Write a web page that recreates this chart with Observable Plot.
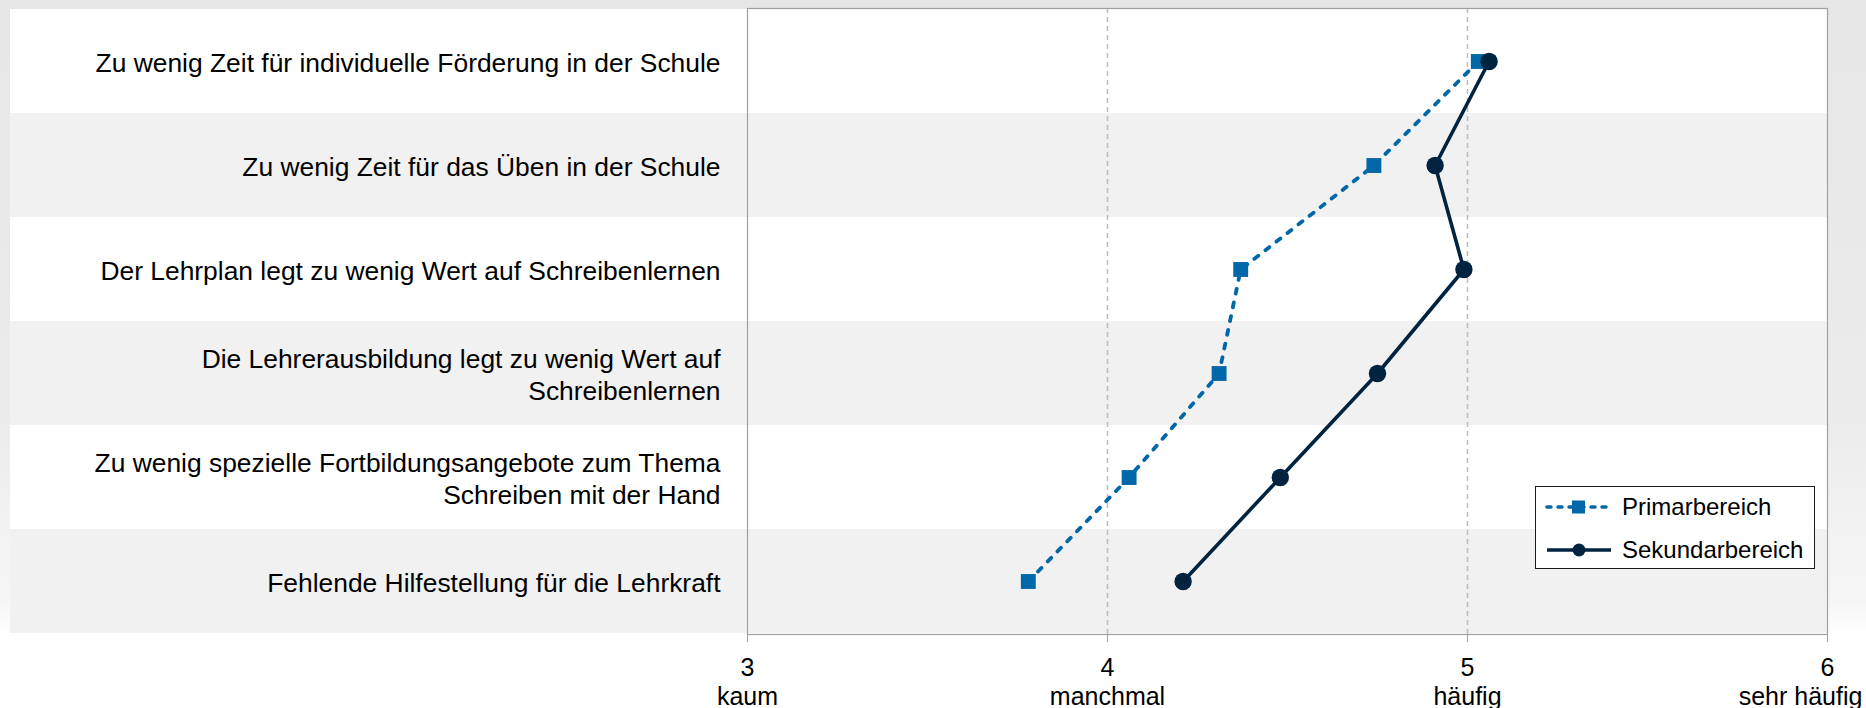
<!DOCTYPE html>
<html>
<head>
<meta charset="utf-8">
<script src="https://cdn.jsdelivr.net/npm/d3@7"></script>
<script src="https://cdn.jsdelivr.net/npm/@observablehq/plot@0.6"></script>
<style>
  html, body { margin: 0; padding: 0; }
  body { width: 1866px; height: 708px; overflow: hidden; font-family: "Liberation Sans", Arial, sans-serif; }
  #wrap { position: relative; width: 1866px; height: 708px;
    background: linear-gradient(to bottom, #e6e6e6 0%, #ececec 60%, #f6f6f6 85%, #ffffff 90%, #ffffff 100%); }
  #chart { position: absolute; left: 0; top: 0; }
  #legend { position: absolute; left: 1535px; top: 486px; width: 278px; height: 81px;
    background: #fff; border: 1.5px solid #1a1a1a; font-size: 24px; color: #000; }
  .item { position: absolute; left: 8px; height: 30px; display: flex; align-items: center; }
  .item svg { display: block; margin-right: 8px; }
</style>
</head>
<body>
<div id="wrap">
  <div id="chart"></div>
  <div id="legend"></div>
</div>
<script>
const categories = [
  "Zu wenig Zeit für individuelle Förderung in der Schule",
  "Zu wenig Zeit für das Üben in der Schule",
  "Der Lehrplan legt zu wenig Wert auf Schreibenlernen",
  "Die Lehrerausbildung legt zu wenig Wert auf\nSchreibenlernen",
  "Zu wenig spezielle Fortbildungsangebote zum Thema\nSchreiben mit der Hand",
  "Fehlende Hilfestellung für die Lehrkraft"
];
const primarbereich = [5.03, 4.74, 4.37, 4.31, 4.06, 3.78];
const sekundarbereich = [5.06, 4.91, 4.99, 4.75, 4.48, 4.21];
const tickValues = [3, 4, 5, 6];
const tickWords = ["kaum", "manchmal", "häufig", "sehr häufig"];
const seriesNames = ["Primarbereich", "Sekundarbereich"];

const colPrim = "#0068a8";
const colSek = "#002340";

const primData = categories.map((c, i) => ({cat: c, v: primarbereich[i]}));
const sekData = categories.map((c, i) => ({cat: c, v: sekundarbereich[i]}));
const bands = categories.map((c, i) => ({cat: c, fill: i % 2 ? "#f1f1f1" : "#ffffff"}));

const chart = Plot.plot({
  width: 1866,
  height: 708,
  marginLeft: 747,
  marginRight: 39,
  marginTop: 8,
  marginBottom: 74,
  style: {background: "transparent", fontFamily: "'Liberation Sans', Arial, sans-serif", color: "#000", overflow: "visible"},
  x: {domain: [3, 6], label: null},
  y: {type: "band", domain: categories, padding: 0, label: null},
  color: {type: "identity"},
  marks: [
    Plot.cell(bands, {y: "cat", fill: "fill", insetLeft: -737}),
    Plot.gridX([4, 5], {stroke: "#bdbdbd", strokeOpacity: 1, strokeWidth: 1.5, strokeDasharray: "5,4"}),
    Plot.frame({stroke: "#a0a0a0", strokeWidth: 1.2}),
    Plot.axisY({tickSize: 0, tickPadding: 27, fontSize: 26.4, lineHeight: 1.21, fill: "#000", textAnchor: "end", label: null}),
    Plot.axisX(tickValues, {tickSize: 8, tickPadding: 16, fontSize: 25, stroke: "#a0a0a0", fill: "#000", label: null,
      tickFormat: d => String(d)}),
    Plot.axisX(tickValues.slice(0, 3), {tickSize: 0, tickPadding: 53, fontSize: 25, fill: "#000", label: null,
      tickFormat: d => tickWords[tickValues.indexOf(d)]}),
    Plot.axisX(tickValues.slice(3), {tickSize: 0, tickPadding: 53, fontSize: 25, fill: "#000", dx: -27, label: null,
      tickFormat: d => tickWords[tickValues.indexOf(d)]}),
    Plot.line(primData, {x: "v", y: "cat", stroke: colPrim, strokeWidth: 3.8, strokeDasharray: "5,9", strokeLinecap: "round"}),
    Plot.line(sekData, {x: "v", y: "cat", stroke: colSek, strokeWidth: 3.6}),
    Plot.dot(primData, {x: "v", y: "cat", symbol: "square", r: 8.4, fill: colPrim, stroke: "none"}),
    Plot.dot(sekData, {x: "v", y: "cat", symbol: "circle", r: 8.7, fill: colSek, stroke: "none"})
  ]
});
document.getElementById("chart").appendChild(chart);

// Legend
const legend = document.getElementById("legend");
const items = [
  {name: seriesNames[0], color: colPrim, dash: "4,7", symbol: "square"},
  {name: seriesNames[1], color: colSek, dash: null, symbol: "circle"}
];
items.forEach((it, i) => {
  const div = document.createElement("div");
  div.className = "item";
  div.style.top = (i === 0 ? 5 : 48) + "px";
  const sym = it.symbol === "square"
    ? `<rect x="28" y="8.5" width="13" height="13" fill="${it.color}"/>`
    : `<circle cx="35" cy="15" r="6.5" fill="${it.color}"/>`;
  div.innerHTML = `<svg width="70" height="30">
      <line x1="3" x2="67" y1="15" y2="15" stroke="${it.color}" stroke-width="3.5" ${it.dash ? `stroke-dasharray="${it.dash}" stroke-linecap="round"` : ""}/>
      ${sym}
    </svg><span>${it.name}</span>`;
  legend.appendChild(div);
});
</script>
</body>
</html>
